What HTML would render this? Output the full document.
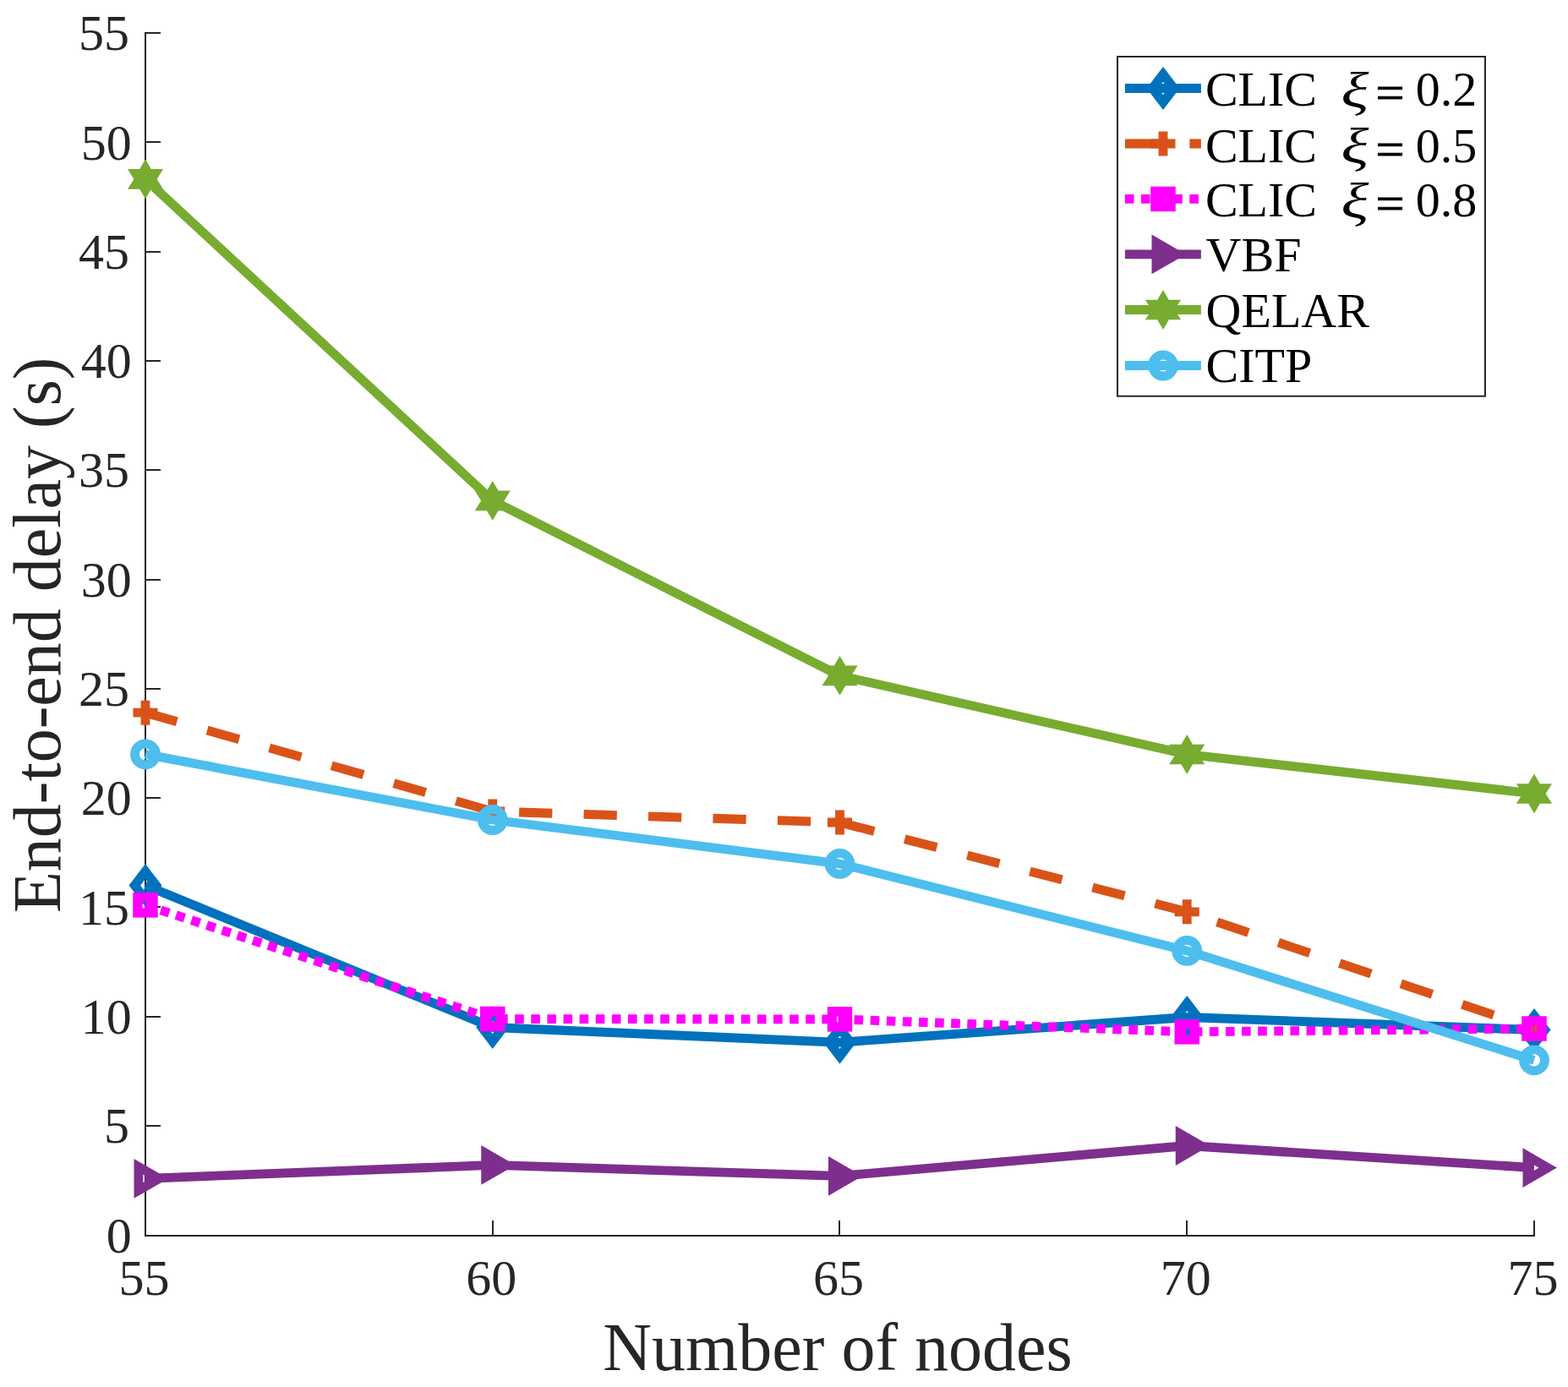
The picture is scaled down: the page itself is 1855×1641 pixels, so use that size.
<!DOCTYPE html>
<html><head><meta charset="utf-8"><title>End-to-end delay vs number of nodes</title>
<style>html,body{margin:0;padding:0;background:#fff;overflow:hidden;}svg{display:block;}text{font-family:"Liberation Serif","Times New Roman",serif;}</style></head><body>
<svg width="1855" height="1641" viewBox="0 0 1855 1641">
<rect x="0" y="0" width="1855" height="1641" fill="#fff"/>
<path d="M172 38V1463M171 1462H1816" fill="none" stroke="#262626" stroke-width="2"/><path d="M171 1332H190" stroke="#262626" stroke-width="2"/><path d="M171 1203H190" stroke="#262626" stroke-width="2"/><path d="M171 1073H190" stroke="#262626" stroke-width="2"/><path d="M171 944H190" stroke="#262626" stroke-width="2"/><path d="M171 815H190" stroke="#262626" stroke-width="2"/><path d="M171 686H190" stroke="#262626" stroke-width="2"/><path d="M171 556H190" stroke="#262626" stroke-width="2"/><path d="M171 427H190" stroke="#262626" stroke-width="2"/><path d="M171 298H190" stroke="#262626" stroke-width="2"/><path d="M171 168H190" stroke="#262626" stroke-width="2"/><path d="M171 39H190" stroke="#262626" stroke-width="2"/><path d="M583 1463V1444" stroke="#262626" stroke-width="2"/><path d="M993 1463V1444" stroke="#262626" stroke-width="2"/><path d="M1404 1463V1444" stroke="#262626" stroke-width="2"/><path d="M1815 1463V1444" stroke="#262626" stroke-width="2"/>
<g fill="#262626" font-size="60"><text x="155.7" y="1481.5" text-anchor="end">0</text><text x="153.1" y="1352.2" text-anchor="end">5</text><text x="155.7" y="1222.9" text-anchor="end">10</text><text x="153.1" y="1093.6" text-anchor="end">15</text><text x="155.7" y="964.3" text-anchor="end">20</text><text x="153.1" y="835" text-anchor="end">25</text><text x="155.7" y="705.7" text-anchor="end">30</text><text x="153.1" y="576.4" text-anchor="end">35</text><text x="155.7" y="447.1" text-anchor="end">40</text><text x="153.1" y="317.8" text-anchor="end">45</text><text x="155.7" y="188.5" text-anchor="end">50</text><text x="153.1" y="59.2" text-anchor="end">55</text><text x="170.5" y="1532" text-anchor="middle">55</text><text x="581.25" y="1532" text-anchor="middle">60</text><text x="992" y="1532" text-anchor="middle">65</text><text x="1402.75" y="1532" text-anchor="middle">70</text><text x="1813.5" y="1532" text-anchor="middle">75</text></g>
<text x="991" y="1621" text-anchor="middle" font-size="80" fill="#262626">Number of nodes</text>
<text transform="translate(71 751.3) rotate(-90)" text-anchor="middle" font-size="80" fill="#262626">End-to-end delay (s)</text>
<path d="M172 1047.6L582.75 1215.5L993.5 1233.3L1404.25 1203.5L1815 1218.5" fill="none" stroke="#0072BD" stroke-width="10.8" stroke-linejoin="round" stroke-linecap="butt"/>
<path d="M172 1031L184.7 1047.6L172 1064.2L159.3 1047.6Z" fill="none" stroke="#0072BD" stroke-width="10.8" stroke-linejoin="miter" stroke-miterlimit="10"/><path d="M582.75 1198.9L595.45 1215.5L582.75 1232.1L570.05 1215.5Z" fill="none" stroke="#0072BD" stroke-width="10.8" stroke-linejoin="miter" stroke-miterlimit="10"/><path d="M993.5 1216.7L1006.2 1233.3L993.5 1249.9L980.8 1233.3Z" fill="none" stroke="#0072BD" stroke-width="10.8" stroke-linejoin="miter" stroke-miterlimit="10"/><path d="M1404.25 1186.9L1416.95 1203.5L1404.25 1220.1L1391.55 1203.5Z" fill="none" stroke="#0072BD" stroke-width="10.8" stroke-linejoin="miter" stroke-miterlimit="10"/><path d="M1815 1201.9L1827.7 1218.5L1815 1235.1L1802.3 1218.5Z" fill="none" stroke="#0072BD" stroke-width="10.8" stroke-linejoin="miter" stroke-miterlimit="10"/>
<path d="M172 843.2L582.75 960L993.5 973L1404.25 1078.8L1815 1217" fill="none" stroke="#D95319" stroke-width="10.8" stroke-linejoin="round" stroke-linecap="butt" stroke-dasharray="39.25 37.23" stroke-dashoffset="0.47"/>
<path d="M157.5 843.2H186.5M172 828.7V857.7" fill="none" stroke="#D95319" stroke-width="10.8" stroke-linecap="butt"/><path d="M568.25 960H597.25M582.75 945.5V974.5" fill="none" stroke="#D95319" stroke-width="10.8" stroke-linecap="butt"/><path d="M979 973H1008M993.5 958.5V987.5" fill="none" stroke="#D95319" stroke-width="10.8" stroke-linecap="butt"/><path d="M1389.75 1078.8H1418.75M1404.25 1064.3V1093.3" fill="none" stroke="#D95319" stroke-width="10.8" stroke-linecap="butt"/><path d="M1800.5 1217H1829.5M1815 1202.5V1231.5" fill="none" stroke="#D95319" stroke-width="10.8" stroke-linecap="butt"/>
<path d="M172 1070.85L582.75 1205.5L993.5 1205.9L1404.25 1220.8L1815 1217" fill="none" stroke="#FF00FF" stroke-width="10.8" stroke-linejoin="round" stroke-linecap="butt" stroke-dasharray="10.6 8.515" stroke-dashoffset="0.06"/>
<rect x="162.9" y="1061.75" width="18.2" height="18.2" fill="none" stroke="#FF00FF" stroke-width="11.3" stroke-linejoin="miter"/><rect x="573.65" y="1196.4" width="18.2" height="18.2" fill="none" stroke="#FF00FF" stroke-width="11.3" stroke-linejoin="miter"/><rect x="984.4" y="1196.8" width="18.2" height="18.2" fill="none" stroke="#FF00FF" stroke-width="11.3" stroke-linejoin="miter"/><rect x="1395.15" y="1211.7" width="18.2" height="18.2" fill="none" stroke="#FF00FF" stroke-width="11.3" stroke-linejoin="miter"/><rect x="1805.9" y="1207.9" width="18.2" height="18.2" fill="none" stroke="#FF00FF" stroke-width="11.3" stroke-linejoin="miter"/>
<path d="M172 1394.4L582.75 1378.4L993.5 1391.4L1404.25 1355.5L1815 1381.6" fill="none" stroke="#7E2F8E" stroke-width="10.8" stroke-linejoin="round" stroke-linecap="butt"/>
<path d="M188.2 1394.4L163.9 1380.37L163.9 1408.43Z" fill="none" stroke="#7E2F8E" stroke-width="10.8" stroke-linejoin="miter" stroke-miterlimit="10"/><path d="M598.95 1378.4L574.65 1364.37L574.65 1392.43Z" fill="none" stroke="#7E2F8E" stroke-width="10.8" stroke-linejoin="miter" stroke-miterlimit="10"/><path d="M1009.7 1391.4L985.4 1377.37L985.4 1405.43Z" fill="none" stroke="#7E2F8E" stroke-width="10.8" stroke-linejoin="miter" stroke-miterlimit="10"/><path d="M1420.45 1355.5L1396.15 1341.47L1396.15 1369.53Z" fill="none" stroke="#7E2F8E" stroke-width="10.8" stroke-linejoin="miter" stroke-miterlimit="10"/><path d="M1831.2 1381.6L1806.9 1367.57L1806.9 1395.63Z" fill="none" stroke="#7E2F8E" stroke-width="10.8" stroke-linejoin="miter" stroke-miterlimit="10"/>
<path d="M172 211.9L582.75 592.4L993.5 799.4L1404.25 892.5L1815 939" fill="none" stroke="#77AC30" stroke-width="10.8" stroke-linejoin="round" stroke-linecap="butt"/>
<path d="M172 188.5L178.8 200.1L193.1 200.1L185.6 211.9L193.1 223.7L178.8 223.7L172 235.3L165.2 223.7L150.9 223.7L158.4 211.9L150.9 200.1L165.2 200.1Z" fill="#77AC30"/><path d="M582.75 569L589.55 580.6L603.85 580.6L596.35 592.4L603.85 604.2L589.55 604.2L582.75 615.8L575.95 604.2L561.65 604.2L569.15 592.4L561.65 580.6L575.95 580.6Z" fill="#77AC30"/><path d="M993.5 776L1000.3 787.6L1014.6 787.6L1007.1 799.4L1014.6 811.2L1000.3 811.2L993.5 822.8L986.7 811.2L972.4 811.2L979.9 799.4L972.4 787.6L986.7 787.6Z" fill="#77AC30"/><path d="M1404.25 869.1L1411.05 880.7L1425.35 880.7L1417.85 892.5L1425.35 904.3L1411.05 904.3L1404.25 915.9L1397.45 904.3L1383.15 904.3L1390.65 892.5L1383.15 880.7L1397.45 880.7Z" fill="#77AC30"/><path d="M1815 915.6L1821.8 927.2L1836.1 927.2L1828.6 939L1836.1 950.8L1821.8 950.8L1815 962.4L1808.2 950.8L1793.9 950.8L1801.4 939L1793.9 927.2L1808.2 927.2Z" fill="#77AC30"/>
<path d="M172 892.4L582.75 970L993.5 1021.9L1404.25 1124.9L1815 1254.4" fill="none" stroke="#4DBEEE" stroke-width="10.8" stroke-linejoin="round" stroke-linecap="butt"/>
<circle cx="172" cy="892.4" r="12.5" fill="none" stroke="#4DBEEE" stroke-width="10.8"/><circle cx="582.75" cy="970" r="12.5" fill="none" stroke="#4DBEEE" stroke-width="10.8"/><circle cx="993.5" cy="1021.9" r="12.5" fill="none" stroke="#4DBEEE" stroke-width="10.8"/><circle cx="1404.25" cy="1124.9" r="12.5" fill="none" stroke="#4DBEEE" stroke-width="10.8"/><circle cx="1815" cy="1254.4" r="12.5" fill="none" stroke="#4DBEEE" stroke-width="10.8"/>
<rect x="1322" y="67" width="435" height="401.7" fill="#fff" stroke="#262626" stroke-width="2"/><path d="M1330.9 104.5H1420.9" stroke="#0072BD" stroke-width="10.8" stroke-linecap="butt"/><path d="M1376 87.9L1388.7 104.5L1376 121.1L1363.3 104.5Z" fill="none" stroke="#0072BD" stroke-width="10.8" stroke-linejoin="miter" stroke-miterlimit="10"/><text x="1425.9" y="125.1" font-size="58" fill="#000">CLIC</text><text x="0" y="0" font-size="58" font-style="italic" fill="#000" transform="translate(1586.4 126.6) scale(1.32 1.03)">&#958;</text><text x="0" y="0" text-anchor="middle" font-size="58" fill="#000" stroke="#000" stroke-width="1" transform="translate(1644.5 129.4) scale(1.04 1)">=</text><text x="1674.8" y="125.1" font-size="58" fill="#000">0.2</text><path d="M1330.9 170H1420.9" stroke="#D95319" stroke-width="10.8" stroke-linecap="butt" stroke-dasharray="39.25 37.23"/><path d="M1361.5 170H1390.5M1376 155.5V184.5" fill="none" stroke="#D95319" stroke-width="10.8" stroke-linecap="butt"/><text x="1425.9" y="191.9" font-size="58" fill="#000">CLIC</text><text x="0" y="0" font-size="58" font-style="italic" fill="#000" transform="translate(1586.4 193.4) scale(1.32 1.03)">&#958;</text><text x="0" y="0" text-anchor="middle" font-size="58" fill="#000" stroke="#000" stroke-width="1" transform="translate(1644.5 196.2) scale(1.04 1)">=</text><text x="1674.8" y="191.9" font-size="58" fill="#000">0.5</text><path d="M1330.9 235.45H1420.9" stroke="#FF00FF" stroke-width="10.8" stroke-linecap="butt" stroke-dasharray="10.6 8.515"/><rect x="1366.9" y="226.35" width="18.2" height="18.2" fill="none" stroke="#FF00FF" stroke-width="11.3" stroke-linejoin="miter"/><text x="1425.9" y="256" font-size="58" fill="#000">CLIC</text><text x="0" y="0" font-size="58" font-style="italic" fill="#000" transform="translate(1586.4 257.5) scale(1.32 1.03)">&#958;</text><text x="0" y="0" text-anchor="middle" font-size="58" fill="#000" stroke="#000" stroke-width="1" transform="translate(1644.5 260.3) scale(1.04 1)">=</text><text x="1674.8" y="256" font-size="58" fill="#000">0.8</text><path d="M1330.9 300.95H1420.9" stroke="#7E2F8E" stroke-width="10.8" stroke-linecap="butt"/><path d="M1392.2 300.95L1367.9 286.92L1367.9 314.98Z" fill="none" stroke="#7E2F8E" stroke-width="10.8" stroke-linejoin="miter" stroke-miterlimit="10"/><text x="1426.6" y="320.9" font-size="58" fill="#000">VBF</text><path d="M1330.9 366.5H1420.9" stroke="#77AC30" stroke-width="10.8" stroke-linecap="butt"/><path d="M1376 343.1L1382.8 354.7L1397.1 354.7L1389.6 366.5L1397.1 378.3L1382.8 378.3L1376 389.9L1369.2 378.3L1354.9 378.3L1362.4 366.5L1354.9 354.7L1369.2 354.7Z" fill="#77AC30"/><text x="1426.6" y="386.6" font-size="58" fill="#000">QELAR</text><path d="M1330.9 432.5H1420.9" stroke="#4DBEEE" stroke-width="10.8" stroke-linecap="butt"/><circle cx="1376" cy="432.5" r="12.5" fill="none" stroke="#4DBEEE" stroke-width="10.8"/><text x="1426.6" y="452" font-size="58" fill="#000">CITP</text>
</svg></body></html>
